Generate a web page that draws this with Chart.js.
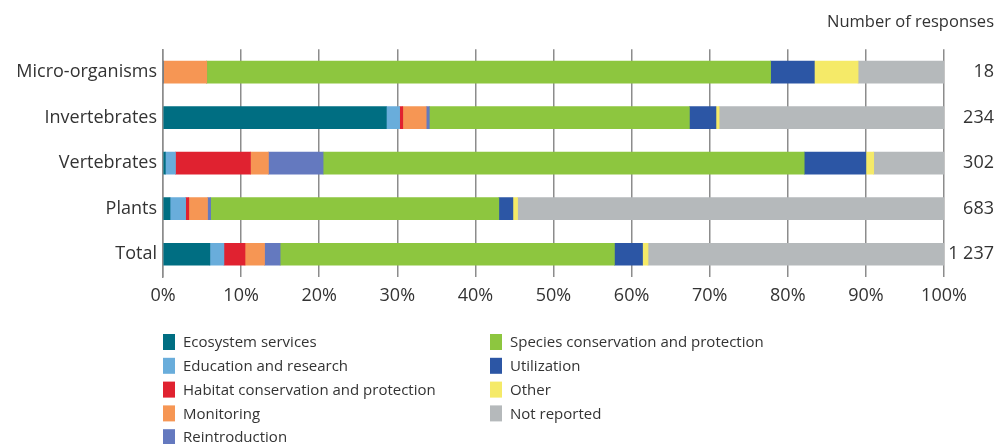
<!DOCTYPE html>
<html>
<head>
<meta charset="utf-8">
<script src="https://cdn.jsdelivr.net/npm/chart.js@4/dist/chart.umd.min.js"></script>
<style>
  html, body { margin: 0; padding: 0; background: #fff; }
  #chart { display: block; }
</style>
</head>
<body>
<canvas id="chart" width="998" height="444"></canvas>
<script>
// categories and response counts (right-hand labels)
const groups = ["Micro-organisms", "Invertebrates", "Vertebrates", "Plants", "Total"];
const responses = ["18", "234", "302", "683", "1 237"];

// percent share of each purpose, per group (same order as groups)
const ecosystemServices   = [0,    28.6, 0.3,  0.9,  6.0];
const educationResearch   = [0,    1.7,  1.3,  2.0,  1.8];
const habitatConservation = [0,    0.4,  9.6,  0.4,  2.7];
const monitoring          = [5.6,  3.0,  2.3,  2.4,  2.5];
const reintroduction      = [0,    0.4,  7.0,  0.4,  2.0];
const speciesConservation = [72.2, 33.3, 61.6, 36.9, 42.8];
const utilization         = [5.6,  3.4,  7.9,  1.8,  3.6];
const other               = [5.6,  0.4,  1.0,  0.6,  0.7];
const notReported         = [11.0, 28.8, 9.0,  54.6, 37.9];

const xTicks = [0, 10, 20, 30, 40, 50, 60, 70, 80, 90, 100];

const TEXT = "#333333";
const GRID = "#8c8c8c";

const series = [
  { label: "Ecosystem services", data: ecosystemServices, color: "#006e82" },
  { label: "Education and research", data: educationResearch, color: "#69addb" },
  { label: "Habitat conservation and protection", data: habitatConservation, color: "#e02230" },
  { label: "Monitoring", data: monitoring, color: "#f69654" },
  { label: "Reintroduction", data: reintroduction, color: "#6479bf" },
  { label: "Species conservation and protection", data: speciesConservation, color: "#8dc63f" },
  { label: "Utilization", data: utilization, color: "#2c56a5" },
  { label: "Other", data: other, color: "#f5ea68" },
  { label: "Not reported", data: notReported, color: "#b5b9bb" }
];

// two-column legend under the plot (first 5 left, rest right)
const columnLegend = {
  id: "columnLegend",
  afterDraw(chart) {
    const ctx = chart.ctx;
    ctx.save();
    ctx.font = "15px 'Open Sans'";
    ctx.textBaseline = "middle";
    ctx.textAlign = "left";
    chart.data.datasets.forEach((ds, i) => {
      const col = i < 5 ? 0 : 1;
      const row = i < 5 ? i : i - 5;
      const x = col === 0 ? 163 : 490;
      const y = 342 + row * 23.8;
      ctx.fillStyle = ds.backgroundColor;
      ctx.fillRect(x, y - 8, 12, 16);
      ctx.fillStyle = TEXT;
      ctx.fillText(ds.label, x + 20, y + 1);
    });
    ctx.restore();
  }
};

new Chart(document.getElementById("chart").getContext("2d"), {
  type: "bar",
  data: {
    labels: groups,
    datasets: series.map(s => ({
      label: s.label,
      data: s.data,
      backgroundColor: s.color,
      borderWidth: 0,
      barThickness: 22
    }))
  },
  options: {
    indexAxis: "y",
    responsive: false,
    animation: false,
    layout: { padding: { left: 0, right: 4, top: 0, bottom: 137 } },
    plugins: {
      legend: { display: false },
      tooltip: { enabled: false },
      title: {
        display: true,
        text: "Number of responses",
        align: "end",
        color: TEXT,
        font: { family: "'Open Sans'", size: 16.5, weight: "normal" },
        padding: { top: 12, bottom: 17.5 }
      }
    },
    scales: {
      x: {
        stacked: true,
        min: 0,
        max: 100,
        afterBuildTicks: axis => { axis.ticks = xTicks.map(v => ({ value: v })); },
        afterFit: axis => { axis.height = 30; },
        ticks: {
          color: TEXT,
          font: { family: "'Open Sans'", size: 18 },
          padding: 8,
          callback: v => v + "%"
        },
        grid: { color: GRID, lineWidth: 1.5, drawTicks: false },
        border: { display: false }
      },
      y: {
        stacked: true,
        afterFit: axis => { axis.width = 163; },
        ticks: {
          color: TEXT,
          font: { family: "'Open Sans'", size: 18 },
          padding: 6
        },
        grid: { display: false, drawTicks: false },
        border: { display: true, color: GRID, width: 1.5 }
      },
      y2: {
        type: "category",
        labels: responses,
        position: "right",
        offset: true,
        afterFit: axis => { axis.width = 50; },
        ticks: {
          color: TEXT,
          font: { family: "'Open Sans'", size: 18 },
          crossAlign: "far"
        },
        grid: { display: false, drawTicks: false },
        border: { display: false }
      }
    }
  },
  plugins: [columnLegend]
});
</script>
</body>
</html>
